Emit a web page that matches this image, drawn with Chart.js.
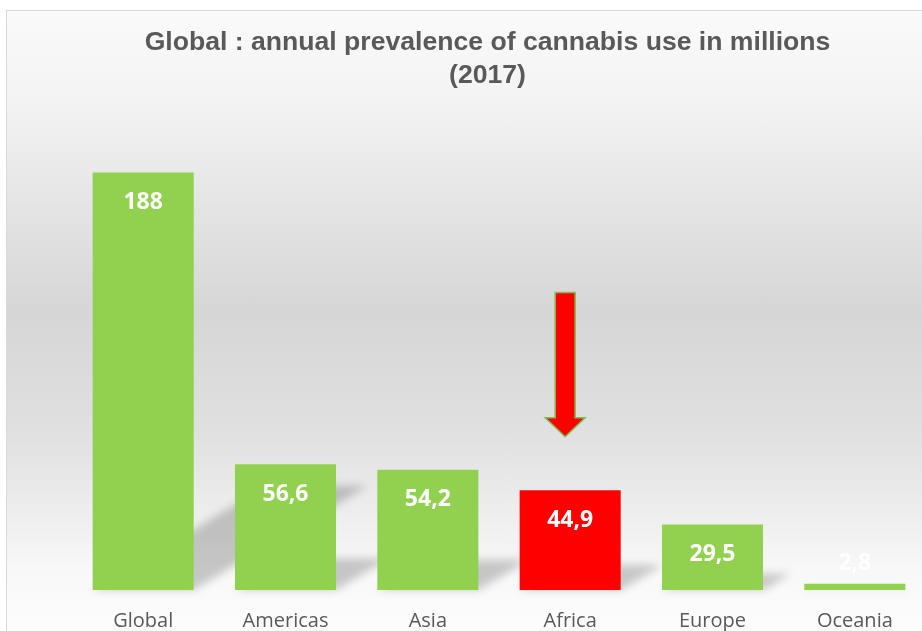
<!DOCTYPE html>
<html>
<head>
<meta charset="utf-8">
<script src="https://cdn.jsdelivr.net/npm/chart.js@4.4.0/dist/chart.umd.min.js"></script>
<style>
html, body { margin: 0; padding: 0; background: #fff; overflow: hidden; width: 922px; height: 631px; }
#fondo {
    position: absolute; left: 6px; top: 10px; width: 1000px; height: 700px;
    border: 1px solid #d9d9d9;
    background: linear-gradient(to bottom, #fafafa 0px, #f3f3f3 90px, #d6d6d6 300px, #e0e0e0 420px, #efefef 510px, #f8f8f8 560px, #fcfcfc 610px);
}
#grafico { position: absolute; left: 0; top: 0; }
</style>
</head>
<body>
<div id="fondo"></div>
<canvas id="grafico" width="975" height="660"></canvas>
<script>
const regiones = ['Global', 'Americas', 'Asia', 'Africa', 'Europe', 'Oceania'];
const usuarios = [188, 56.6, 54.2, 44.9, 29.5, 2.8];
const colores = ['#92d050', '#92d050', '#92d050', '#ff0000', '#92d050', '#92d050'];
// flecha sobre Africa (en millones, eje y)
const flechaDesde = 134;
const flechaHasta = 69;

const formato = v => String(v).replace('.', ',');

// sombra en perspectiva detras de cada barra
const sombras = {
    id: 'sombras',
    beforeDatasetsDraw(chart) {
        const ctx = chart.ctx;
        ctx.save();
        ctx.filter = 'blur(4px)';
        ctx.fillStyle = 'rgba(0,0,0,0.2)';
        chart.getDatasetMeta(0).data.forEach(bar => {
            const h = bar.base - bar.y;
            const sube = h * 0.25;
            const corre = sube / 0.6;
            const x0 = bar.x - bar.width / 2, x1 = bar.x + bar.width / 2;
            ctx.beginPath();
            ctx.moveTo(x0, bar.base);
            ctx.lineTo(x1, bar.base);
            ctx.lineTo(x1 + corre, bar.base - sube);
            ctx.lineTo(x0 + corre, bar.base - sube);
            ctx.closePath();
            ctx.fill();
        });
        ctx.restore();
    }
};

const etiquetas = {
    id: 'etiquetas',
    afterDatasetsDraw(chart) {
        const ctx = chart.ctx;
        ctx.save();
        ctx.font = 'bold 23px "Open Sans"';
        ctx.fillStyle = '#ffffff';
        ctx.textAlign = 'center';
        ctx.textBaseline = 'middle';
        chart.getDatasetMeta(0).data.forEach((bar, i) => {
            const y = Math.min(bar.y + 30, bar.base - 27);
            ctx.fillText(formato(usuarios[i]), bar.x, y);
        });
        ctx.restore();
    }
};

const flecha = {
    id: 'flecha',
    afterDraw(chart) {
        const ctx = chart.ctx;
        const x = chart.scales.x.getPixelForValue(3) - 5;
        const y0 = chart.scales.y.getPixelForValue(flechaDesde);
        const y1 = chart.scales.y.getPixelForValue(flechaHasta);
        const cabeza = 19;
        ctx.save();
        ctx.beginPath();
        ctx.moveTo(x - 10, y0);
        ctx.lineTo(x + 10, y0);
        ctx.lineTo(x + 10, y1 - cabeza);
        ctx.lineTo(x + 20, y1 - cabeza);
        ctx.lineTo(x, y1);
        ctx.lineTo(x - 20, y1 - cabeza);
        ctx.lineTo(x - 10, y1 - cabeza);
        ctx.closePath();
        ctx.fillStyle = '#ff0000';
        ctx.fill();
        ctx.lineWidth = 1.5;
        ctx.strokeStyle = '#7cbf55';
        ctx.stroke();
        ctx.restore();
    }
};

const miGrafico = new Chart(document.getElementById('grafico'), {
    type: 'bar',
    data: {
        labels: regiones,
        datasets: [{
            data: usuarios,
            backgroundColor: colores,
            borderColor: colores,
            borderWidth: 0,
            categoryPercentage: 1,
            barPercentage: 0.71
        }]
    },
    options: {
        responsive: false,
        animation: false,
        layout: { padding: { left: 49, right: 49, top: 0, bottom: 0 } },
        plugins: {
            legend: { display: false },
            tooltip: { enabled: false },
            title: {
                display: true,
                text: ['Global : annual prevalence of cannabis use in millions', '(2017)'],
                color: '#595959',
                font: { family: '"Liberation Sans", Arial', size: 26.6, weight: 'bold', lineHeight: 1.24 },
                padding: { top: 26, bottom: 54 }
            }
        },
        scales: {
            x: {
                grid: { display: false },
                border: { display: false },
                ticks: { color: '#595959', font: { family: '"Open Sans"', size: 20 }, padding: 11 },
                afterFit: s => { s.height = 70; }
            },
            y: {
                min: 0, max: 200,
                grid: { display: false },
                border: { display: false },
                ticks: { display: false },
                afterFit: s => { s.width = 23; }
            }
        }
    },
    plugins: [sombras, etiquetas, flecha]
});
</script>
</body>
</html>
